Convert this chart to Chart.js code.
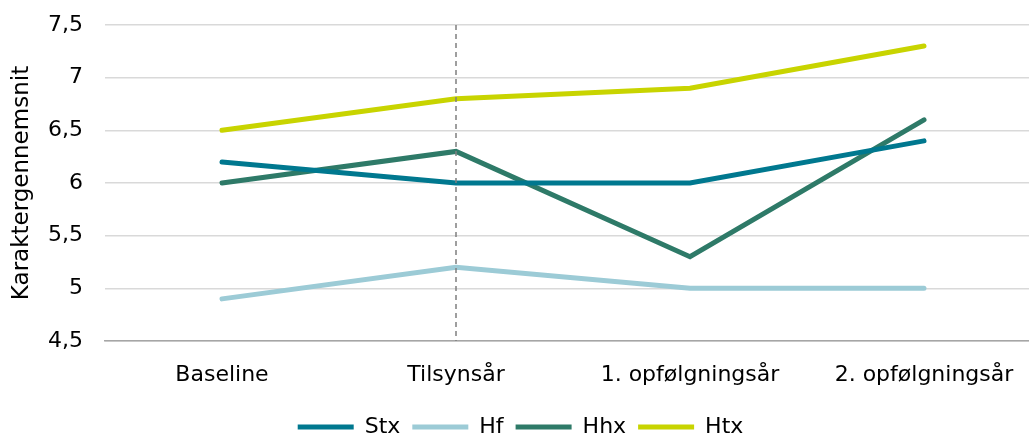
<!DOCTYPE html>
<html lang="da">
<head>
    <meta charset="UTF-8">
    <title>Karaktergennemsnit</title>
    <script src="https://cdn.jsdelivr.net/npm/chart.js"></script>
    <style>
        html, body { margin: 0; padding: 0; background: white; overflow: hidden; }
        .chart-box { width: 1041px; height: 436px; position: relative; }
    </style>
</head>
<body>
    <div class="chart-box">
        <canvas id="lineChart"></canvas>
    </div>
    <script>
        // Data
        const labels = ["Baseline", "Tilsynsår", "1. opfølgningsår", "2. opfølgningsår"];
        const stx = [6.2, 6.0, 6.0, 6.4];
        const hf = [4.9, 5.2, 5.0, 5.0];
        const hhx = [6.0, 6.3, 5.3, 6.6];
        const htx = [6.5, 6.8, 6.9, 7.3];
        const markerIndex = 1; // stiplet linje ved Tilsynsår

        const font = "'DejaVu Sans', Verdana, sans-serif";

        // stiplet lodret linje
        const dashedLine = {
            id: "dashedLine",
            afterDatasetsDraw(chart) {
                const ctx = chart.ctx;
                const x = chart.scales.x.getPixelForValue(markerIndex);
                const area = chart.chartArea;
                ctx.save();
                ctx.strokeStyle = "#7f7f7f";
                ctx.lineWidth = 1.5;
                ctx.setLineDash([5, 4]);
                ctx.beginPath();
                ctx.moveTo(x, area.top);
                ctx.lineTo(x, area.bottom);
                ctx.stroke();
                ctx.restore();
            }
        };

        function ds(label, data, color) {
            return {
                label: label,
                data: data,
                borderColor: color,
                backgroundColor: color,
                borderWidth: 5,
                pointRadius: 0,
                tension: 0,
                borderCapStyle: "round"
            };
        }

        new Chart(document.getElementById("lineChart"), {
            type: "line",
            data: {
                labels: labels,
                datasets: [
                    ds("Stx", stx, "#00788f"),
                    ds("Hf", hf, "#9ccbd6"),
                    ds("Hhx", hhx, "#2e7a68"),
                    ds("Htx", htx, "#c8d400")
                ]
            },
            options: {
                responsive: true,
                maintainAspectRatio: false,
                animation: false,
                layout: { padding: { top: 25, right: 0, left: 0, bottom: -12 } },
                plugins: {
                    legend: {
                        position: "bottom",
                        labels: {
                            font: { family: font, size: 22 },
                            color: "#000",
                            boxWidth: 56,
                            boxHeight: 5,
                            padding: 12,
                            generateLabels(chart) {
                                return chart.data.datasets.map((d, i) => ({
                                    text: d.label,
                                    fillStyle: d.borderColor,
                                    strokeStyle: d.borderColor,
                                    lineWidth: 0,
                                    fontColor: "#000",
                                    datasetIndex: i
                                }));
                            }
                        }
                    },
                    tooltip: { enabled: false }
                },
                scales: {
                    x: {
                        offset: true,
                        grid: { display: false, drawTicks: false, offset: true },
                        border: { color: "#a6a6a6", width: 1.5 },
                        ticks: { font: { family: font, size: 22 }, color: "#000", padding: 21 },
                        afterFit(scale) {
                            scale.height = 63;
                            scale.paddingLeft = 0;
                            scale.paddingRight = 0;
                        }
                    },
                    y: {
                        min: 4.5,
                        max: 7.5,
                        ticks: {
                            stepSize: 0.5,
                            font: { family: font, size: 22 },
                            color: "#000",
                            padding: 22,
                            callback: v => v.toString().replace(".", ",")
                        },
                        grid: { color: "#d9d9d9", lineWidth: 1.5, drawTicks: false },
                        border: { display: false },
                        title: {
                            display: true,
                            text: "Karaktergennemsnit",
                            font: { family: font, size: 23 },
                            color: "#000",
                            padding: { top: 8, bottom: 0 }
                        },
                        afterFit(scale) {
                            scale.width = 105;
                            scale.paddingTop = 0;
                            scale.paddingBottom = 0;
                        }
                    }
                }
            },
            plugins: [dashedLine]
        });
    </script>
</body>
</html>
